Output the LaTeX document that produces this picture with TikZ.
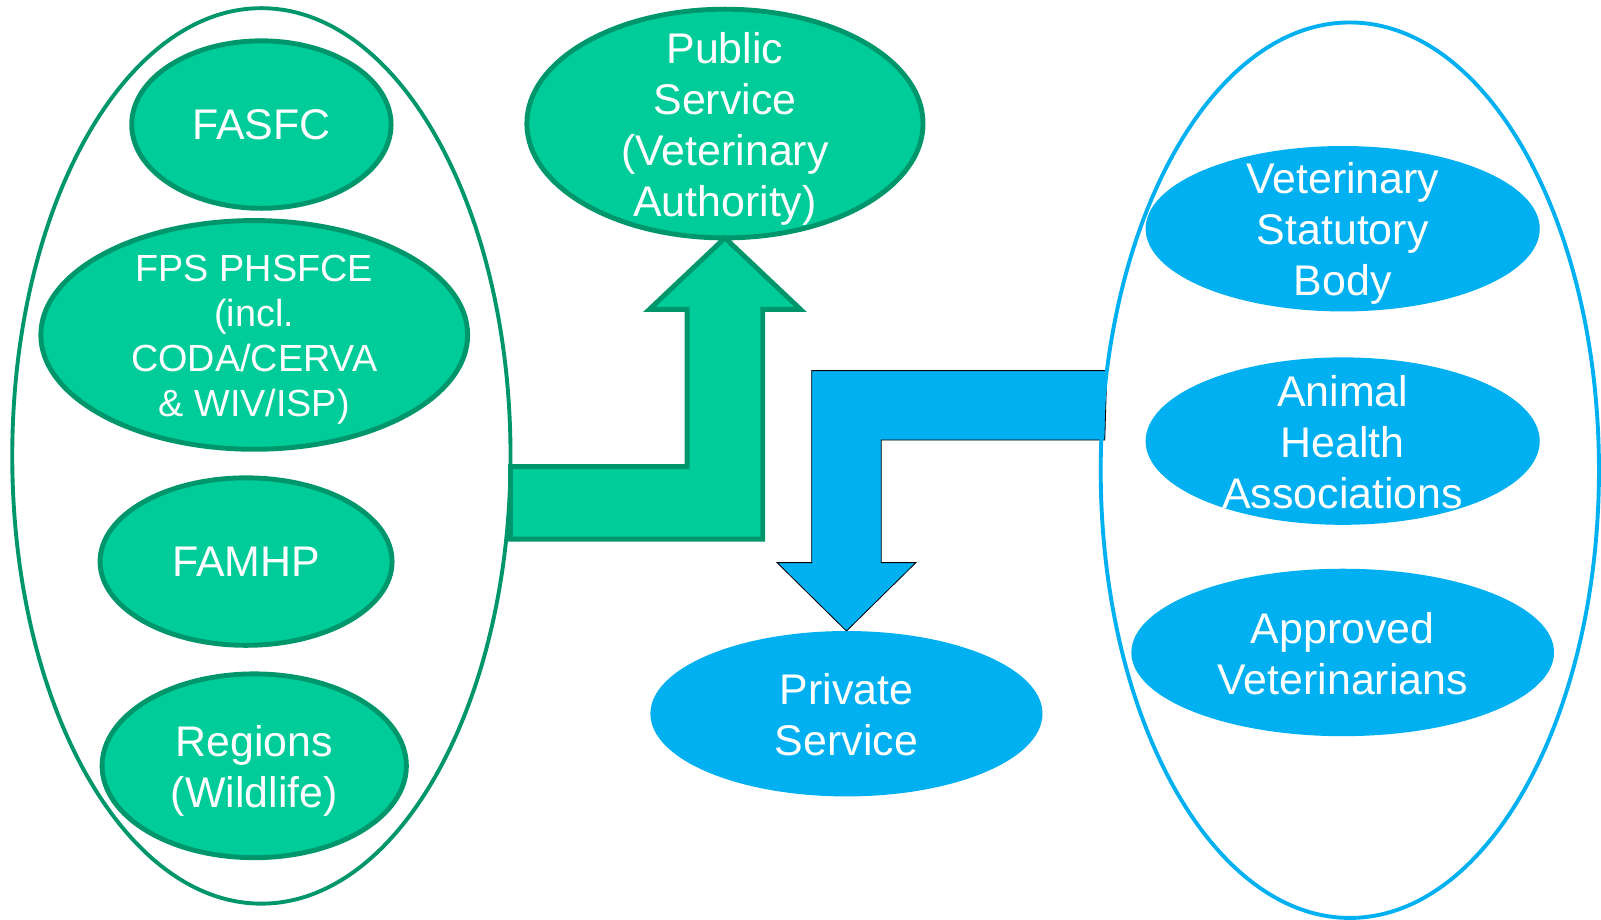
\documentclass[tikz,border=0pt]{standalone}
\usepackage{fontspec}
\setmainfont{Liberation Sans}
\usetikzlibrary{shapes.geometric,calc,backgrounds}
\definecolor{gfill}{HTML}{00CC99}
\definecolor{gline}{HTML}{00966C}
\definecolor{bfill}{HTML}{00B0F0}
\begin{document}
\begin{tikzpicture}[x=0.5pt,y=-0.5pt,
  ellsz/.style 2 args={ellipse, inner sep=0pt, outer sep=0pt, minimum width=#1 pt, minimum height=#2 pt},
  grpgreen/.style={draw=gline, line width=1.9pt},
  grpblue/.style={draw=bfill, line width=1.9pt},
  gell/.style={fill=gfill, draw=gline, line width=2.4pt},
  bell/.style={fill=bfill},
  txtone/.style={text=white, align=center, inner sep=0pt, font=\fontsize{21}{25}\selectfont},
  txt/.style={txtone, yshift=-2.5pt},
  txtup/.style={txtone, yshift=-0.5pt},
  txtsmall/.style={text=white, align=center, inner sep=0pt, yshift=-2.5pt, font=\fontsize{18.5}{22}\selectfont},
  garrow/.style={fill=gfill, draw=gline, line width=2.4pt, line join=miter},
  barrow/.style={fill=bfill}]
\useasboundingbox (0,0) rectangle (1568,901);

% left group
\node[grpgreen, ellsz={244}{438.5}] (leftgrp) at (256,446.5) {};
\node[gell, ellsz={127}{82}] (fasfc) at (256,122) {};
\node[txtone] (fasfct) at (fasfc.center) {FASFC};
\node[gell, ellsz={209}{112}] (fps) at (249,328) {};
\node[txtsmall] (fpst) at (fps.center) {FPS PHSFCE\\(incl.\\CODA/CERVA\\\&{} WIV/ISP)};
\node[gell, ellsz={143}{82}] (famhp) at (241,550) {};
\node[txtone] (famhpt) at (famhp.center) {FAMHP};
\node[gell, ellsz={149}{90}] (regions) at (249,750) {};
\node[txt] (regionst) at (regions.center) {Regions\\(Wildlife)};

% public service
\node[gell, ellsz={194}{112}] (pub) at (710,121) {};
\node[txt] (pubt) at (pub.center) {Public\\Service\\(Veterinary\\Authority)};

% private service
\node[bell, ellsz={192}{81}] (priv) at (829,699) {};
\node[txtup] (privt) at (priv.center) {Private\\Service};

% green arrow: left group -> public service
\coordinate (gtip) at (pub.south);
\draw[garrow] (gtip) -- ++(74,70) -- ++(-37,0) -- ++(0,225)
  -- (leftgrp.east |- 0,528) -- (leftgrp.east |- 0,457)
  -- ($(gtip)+(-37,224)$) -- ($(gtip)+(-37,70)$) -- ($(gtip)+(-74,70)$) -- cycle;

% right group
\node[grpblue, ellsz={244}{438.5}] (rightgrp) at (1322,460.5) {};
\node[bell, ellsz={193}{81}] (vsb) at (1315,224) {};
\node[txt] (vsbt) at (vsb.center) {Veterinary\\Statutory\\Body};
\node[bell, ellsz={193}{82}] (aha) at (1315,432) {};
\node[txtup] (ahat) at (aha.center) {Animal\\Health\\Associations};
\node[bell, ellsz={207}{82}] (appr) at (1315,639) {};
\node[txtup] (apprt) at (appr.center) {Approved\\Veterinarians};

% blue arrow: right group -> private service
\coordinate (btip) at (priv.north);
\begin{pgfonlayer}{background}
\draw[barrow] (btip) -- ++(68,-67) -- ++(-34,0) -- ++(0,-120)
  -- ($(rightgrp.west |- 0,431)+(4,0)$) -- ($(rightgrp.west |- 0,363)+(6,0)$)
  -- ($(btip)+(-34,-255)$) -- ($(btip)+(-34,-67)$) -- ($(btip)+(-68,-67)$) -- cycle;
\end{pgfonlayer}
\end{tikzpicture}
\end{document}
